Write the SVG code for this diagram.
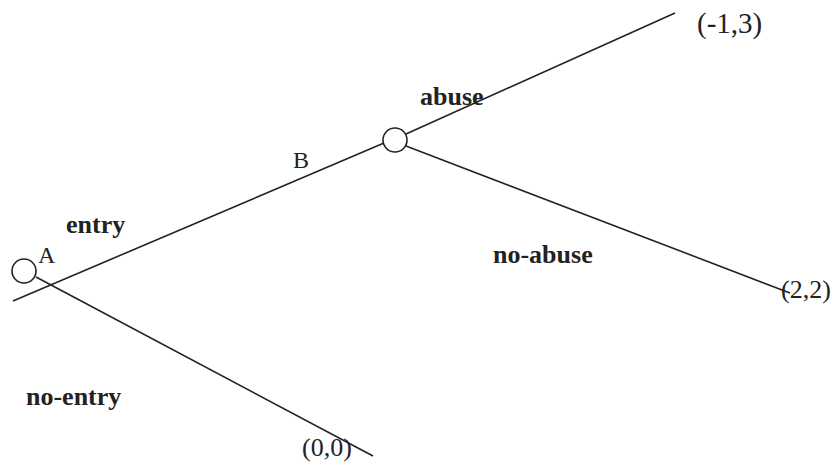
<svg xmlns="http://www.w3.org/2000/svg" width="834" height="462" viewBox="0 0 834 462">
<style>
.l{stroke:#222;stroke-width:1.6;fill:none}
.n{stroke:#222;stroke-width:1.6;fill:#fff}
.t{font-family:"Liberation Serif",serif;fill:#222}
.b{font-weight:bold;font-size:26px}
.r{font-size:24px}
.p{font-size:26px}
</style>
<rect width="834" height="462" fill="#fff"/>
<g id="connectors">
<line class="l" x1="13" y1="301" x2="384" y2="143"/>
<line class="l" x1="406" y1="134" x2="675" y2="13"/>
<line class="l" x1="406" y1="146" x2="790" y2="293"/>
<line class="l" x1="36" y1="277" x2="373" y2="456"/>
</g>
<g id="nodeA"><circle class="n" cx="24" cy="271" r="12"/><text class="t r" x="38" y="263">A</text></g>
<g id="nodeB"><circle class="n" cx="395" cy="140" r="12"/><text class="t r" x="293" y="168">B</text></g>
<g id="labels">
<text class="t b" x="66" y="233">entry</text>
<text class="t b" x="26" y="405">no-entry</text>
<text class="t b" x="420" y="105">abuse</text>
<text class="t b" x="493" y="263" font-size="27">no-abuse</text>
</g>
<g id="payoffs">
<text class="t" x="697" y="33" font-size="29">(-1,3)</text>
<text class="t p" x="781" y="298">(2,2)</text>
<text class="t p" x="302" y="456">(0,0)</text>
</g>
</svg>
